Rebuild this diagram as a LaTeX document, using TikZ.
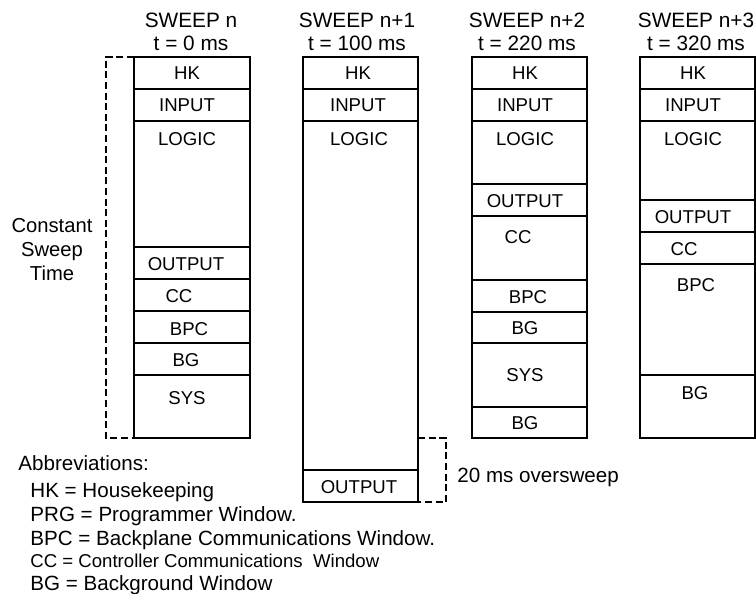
\documentclass[tikz,border=0pt]{standalone}
\usepackage{fontspec}
\setmainfont{Liberation Sans}
\usetikzlibrary{positioning}

\begin{document}
\begin{tikzpicture}[x=0.5pt, y=-0.5pt,
  cell/.style={inner sep=0pt, font=\fontsize{9.3}{11}\selectfont},
  head/.style={align=center, inner sep=0pt, font=\fontsize{10.4}{11.5}\selectfont},
  note/.style={anchor=base west, inner sep=0pt, font=\fontsize{10.3}{12}\selectfont},
  box/.style={line width=0.9pt},
  bracket/.style={line width=0.8pt, dash pattern=on 3.5pt off 1.8pt}
]
  \useasboundingbox (0,0) rectangle (756,594);

  % sweep n
  \node[head] (s0) at (191,31.5) {SWEEP n\\t = 0 ms};
  \draw[box] (134,57) rectangle (250,438);
  \foreach \y in {89,121,247,279,311,343,375} \draw[box] (134,\y) -- (250,\y);
  \foreach \t/\x/\y [count=\i] in {HK/187/73, INPUT/187/105, LOGIC/187/139,
      OUTPUT/186/264, CC/179/296, BPC/189/329, BG/186/360, SYS/187/398}
    \node[cell] (a\i) at (\x,\y) {\t};
  \draw[bracket] (134,57) -| (106,438) -- (134,438);
  \node[head, font=\fontsize{10.1}{12}\selectfont] (cst) at (52,250) {Constant\\Sweep\\Time};

  % sweep n+1
  \node[head] (s1) at (357,31.5) {SWEEP n+1\\t = 100 ms};
  \draw[box] (303,57) rectangle (418,502);
  \foreach \y in {89,121,470} \draw[box] (303,\y) -- (418,\y);
  \foreach \t/\x/\y [count=\i] in {HK/358/73, INPUT/358/105, LOGIC/359/139, OUTPUT/359/487}
    \node[cell] (b\i) at (\x,\y) {\t};
  \draw[bracket] (418,438) -| (446,502) -- (418,502);
  \node[note] (over) at (457,482) {20 ms oversweep};

  % sweep n+2
  \node[head] (s2) at (527,31.5) {SWEEP n+2\\t = 220 ms};
  \draw[box] (472,57) rectangle (587,438);
  \foreach \y in {89,121,184,216,280,312,343,407} \draw[box] (472,\y) -- (587,\y);
  \foreach \t/\x/\y [count=\i] in {HK/525/73, INPUT/525/105, LOGIC/525/139,
      OUTPUT/525/201, CC/518/237, BPC/528/297, BG/525/328, SYS/525/375, BG/525/423}
    \node[cell] (c\i) at (\x,\y) {\t};

  % sweep n+3
  \node[head] (s3) at (696,31.5) {SWEEP n+3\\t = 320 ms};
  \draw[box] (640,57) rectangle (755,438);
  \foreach \y in {89,121,200,232,264,375} \draw[box] (640,\y) -- (755,\y);
  \foreach \t/\x/\y [count=\i] in {HK/693/73, INPUT/693/105, LOGIC/693/139,
      OUTPUT/693/217, CC/684/249, BPC/696/285, BG/695/393}
    \node[cell] (d\i) at (\x,\y) {\t};

  % abbreviations
  \node[note] (abbr) at (18,470) {Abbreviations:};
  \node[note] (hk) at (30,497) {HK = Housekeeping};
  \node[note] (prg) at (30,521) {PRG = Programmer Window.};
  \node[note] (bpc) at (30,545) {BPC = Backplane Communications Window.};
  \node[note, font=\fontsize{9.3}{11}\selectfont] (cc) at (30,567) {CC = Controller Communications\ \ Window};
  \node[note] (bg) at (30,590) {BG = Background Window};
\end{tikzpicture}
\end{document}
